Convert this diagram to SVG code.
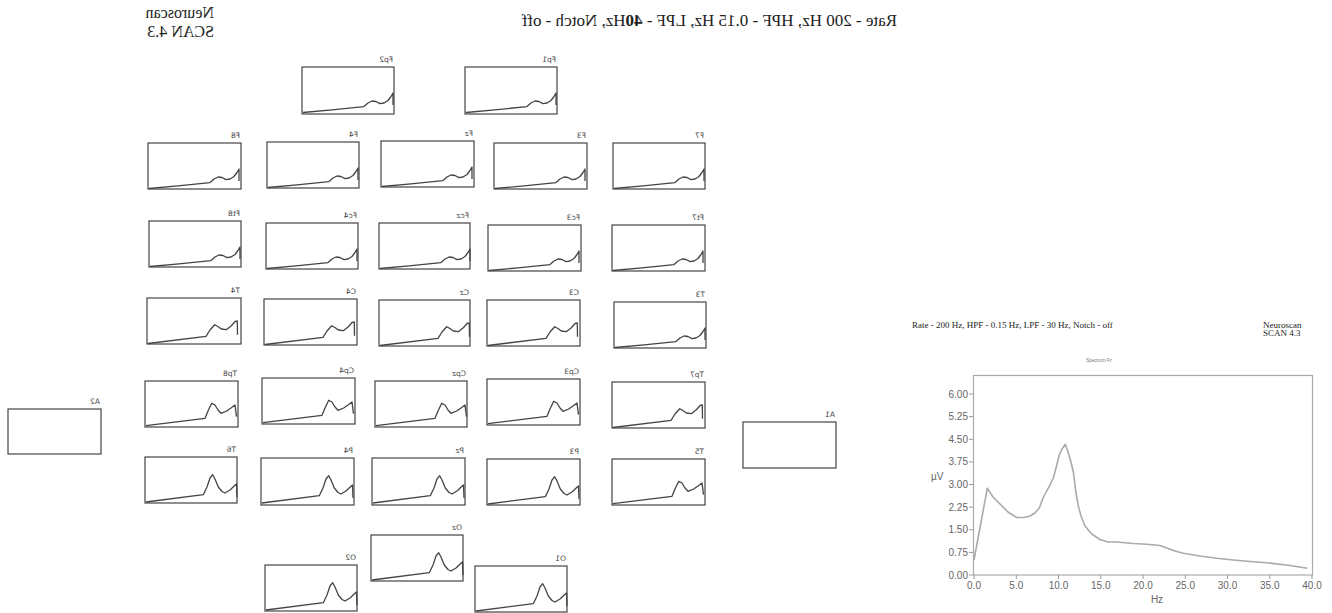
<svg xmlns="http://www.w3.org/2000/svg" width="1332" height="613" viewBox="0 0 1332 613">
<style>
.box{fill:#fff;stroke:#444;stroke-width:1.2}
.crv{fill:none;stroke:#444;stroke-width:1.3;stroke-linejoin:round}
.lbl{font-family:"DejaVu Sans",sans-serif;font-size:7.5px;fill:#444}
.mt{font-family:"Liberation Serif",serif;fill:#222}
.ax{font-family:"Liberation Sans",sans-serif;font-size:10px;fill:#666}
.tk{stroke:#999;stroke-width:1}
</style>
<defs>
<path id="cF" class="crv" d="M1,45.5 L30,42.8 L62,39.6 L66,36 L70,34 L74,34.5 L78,36.6 L82,36 L86,33.5 L89,29.5 L91,26 L91,38"/>
<path id="cC" class="crv" d="M1,45.5 L59,38.3 L63,32 L67.7,26.7 L71,28.5 L74.3,31 L79.3,31.7 L84.3,27.7 L88.3,23.3 L90.3,23 L90.5,36.7"/>
<path id="cP2" class="crv" d="M1,44.7 L60,37.3 L63,30 L66.7,22.3 L70,24 L73,29 L76,32.3 L81.7,30 L86,27 L90,24 L91.5,35.7"/>
<path id="cP" class="crv" d="M1,45 L58.3,37.7 L62,30 L65,21 L67.7,17.7 L70,22 L73.3,30 L77,34.5 L80,36 L85,33 L90,28.3 L91.5,27 L92,40"/>
</defs>

<g id="header">
<text class="mt" font-size="16" transform="translate(214,18) scale(-1,1)">Neuroscan</text>
<text class="mt" font-size="16" transform="translate(214,37) scale(-1,1)">SCAN 4.3</text>
<text class="mt" font-size="17" transform="translate(897,26) scale(-1,1)">Rate - 200 Hz, HPF - 0.15 Hz, LPF - <tspan font-weight="bold">40</tspan>Hz, Notch - off</text>
</g>

<g id="Fp2"><rect class="box" x="302" y="67" width="92" height="47"/><use href="#cF" x="302" y="67"/><text class="lbl" transform="translate(393,62) scale(-1,1)">Fp2</text></g>
<g id="Fp1"><rect class="box" x="465" y="67" width="92" height="47"/><use href="#cF" x="465" y="67"/><text class="lbl" transform="translate(556,62) scale(-1,1)">Fp1</text></g>

<g id="F8"><rect class="box" x="148" y="143" width="93" height="46"/><use href="#cF" x="148" y="143"/><text class="lbl" transform="translate(240,138) scale(-1,1)">F8</text></g>
<g id="F4"><rect class="box" x="267" y="142" width="92" height="46"/><use href="#cF" x="267" y="142"/><text class="lbl" transform="translate(358,137) scale(-1,1)">F4</text></g>
<g id="Fz"><rect class="box" x="381" y="141" width="93" height="46"/><use href="#cF" x="381" y="141"/><text class="lbl" transform="translate(473,136) scale(-1,1)">Fz</text></g>
<g id="F3"><rect class="box" x="494" y="143" width="93" height="46"/><use href="#cF" x="494" y="143"/><text class="lbl" transform="translate(586,138) scale(-1,1)">F3</text></g>
<g id="F7"><rect class="box" x="613" y="143" width="92" height="46"/><use href="#cF" x="613" y="143"/><text class="lbl" transform="translate(704,138) scale(-1,1)">F7</text></g>

<g id="Ft8"><rect class="box" x="149" y="221" width="92" height="46"/><use href="#cF" x="149" y="221"/><text class="lbl" transform="translate(240,216) scale(-1,1)">Ft8</text></g>
<g id="Fc4"><rect class="box" x="266" y="223" width="92" height="46"/><use href="#cF" x="266" y="223"/><text class="lbl" transform="translate(357,218) scale(-1,1)">Fc4</text></g>
<g id="Fcz"><rect class="box" x="379" y="223" width="91" height="46"/><use href="#cF" x="379" y="223"/><text class="lbl" transform="translate(469,218) scale(-1,1)">Fcz</text></g>
<g id="Fc3"><rect class="box" x="488" y="225" width="93" height="46"/><use href="#cF" x="488" y="225"/><text class="lbl" transform="translate(580,220) scale(-1,1)">Fc3</text></g>
<g id="Ft7"><rect class="box" x="612" y="225" width="93" height="46"/><use href="#cF" x="612" y="225"/><text class="lbl" transform="translate(704,220) scale(-1,1)">Ft7</text></g>

<g id="T4"><rect class="box" x="147" y="298" width="94" height="46"/><use href="#cC" x="147" y="298"/><text class="lbl" transform="translate(240,293) scale(-1,1)">T4</text></g>
<g id="C4"><rect class="box" x="264" y="299" width="93" height="46"/><use href="#cC" x="264" y="299"/><text class="lbl" transform="translate(356,294) scale(-1,1)">C4</text></g>
<g id="Cz"><rect class="box" x="379" y="300" width="91" height="46"/><use href="#cC" x="379" y="300"/><text class="lbl" transform="translate(469,295) scale(-1,1)">Cz</text></g>
<g id="C3"><rect class="box" x="487" y="300" width="93" height="46"/><use href="#cC" x="487" y="300"/><text class="lbl" transform="translate(579,295) scale(-1,1)">C3</text></g>
<g id="T3"><rect class="box" x="614" y="302" width="92" height="46"/><use href="#cF" x="614" y="302"/><text class="lbl" transform="translate(705,297) scale(-1,1)">T3</text></g>

<g id="Tp8"><rect class="box" x="145" y="381" width="93" height="46"/><use href="#cP2" x="145" y="381"/><text class="lbl" transform="translate(237,376) scale(-1,1)">Tp8</text></g>
<g id="Cp4"><rect class="box" x="262" y="378" width="93" height="46"/><use href="#cP2" x="262" y="378"/><text class="lbl" transform="translate(354,373) scale(-1,1)">Cp4</text></g>
<g id="Cpz"><rect class="box" x="375" y="381" width="92" height="46"/><use href="#cP2" x="375" y="381"/><text class="lbl" transform="translate(466,376) scale(-1,1)">Cpz</text></g>
<g id="Cp3"><rect class="box" x="487" y="379" width="93" height="46"/><use href="#cP2" x="487" y="379"/><text class="lbl" transform="translate(579,374) scale(-1,1)">Cp3</text></g>
<g id="Tp7"><rect class="box" x="612" y="382" width="93" height="46"/><use href="#cC" x="612" y="382"/><text class="lbl" transform="translate(704,377) scale(-1,1)">Tp7</text></g>

<g id="T6"><rect class="box" x="145" y="457" width="92" height="46"/><use href="#cP" x="145" y="457"/><text class="lbl" transform="translate(236,452) scale(-1,1)">T6</text></g>
<g id="P4"><rect class="box" x="261" y="458" width="93" height="47"/><use href="#cP" x="261" y="458"/><text class="lbl" transform="translate(353,453) scale(-1,1)">P4</text></g>
<g id="Pz"><rect class="box" x="372" y="458" width="93" height="47"/><use href="#cP" x="372" y="458"/><text class="lbl" transform="translate(464,453) scale(-1,1)">Pz</text></g>
<g id="P3"><rect class="box" x="487" y="459" width="93" height="46"/><use href="#cP" x="487" y="459"/><text class="lbl" transform="translate(579,454) scale(-1,1)">P3</text></g>
<g id="T5"><rect class="box" x="612" y="459" width="93" height="46"/><use href="#cP2" x="612" y="459"/><text class="lbl" transform="translate(704,454) scale(-1,1)">T5</text></g>

<g id="O2"><rect class="box" x="265" y="565" width="92" height="46"/><use href="#cP" x="265" y="565"/><text class="lbl" transform="translate(356,560) scale(-1,1)">O2</text></g>
<g id="Oz"><rect class="box" x="371" y="535" width="92" height="46"/><use href="#cP" x="371" y="535"/><text class="lbl" transform="translate(462,530) scale(-1,1)">Oz</text></g>
<g id="O1"><rect class="box" x="475" y="566" width="92" height="46"/><use href="#cP" x="475" y="566"/><text class="lbl" transform="translate(566,561) scale(-1,1)">O1</text></g>

<g id="A2"><rect class="box" x="8" y="409" width="93" height="45"/><text class="lbl" transform="translate(100,404) scale(-1,1)">A2</text></g>
<g id="A1"><rect class="box" x="743" y="422" width="93" height="46"/><text class="lbl" transform="translate(835,417) scale(-1,1)">A1</text></g>

<g id="connectors"></g>

<g id="chart">
<text class="mt" font-size="9" x="912" y="328">Rate - 200 Hz, HPF - 0.15 Hz, LPF - 30 Hz, Notch - off</text>
<text class="mt" font-size="9" x="1263" y="328">Neuroscan</text>
<text class="mt" font-size="9" x="1263" y="336">SCAN 4.3</text>
<text font-family="Liberation Sans,sans-serif" font-size="4.5" fill="#777" x="1099" y="362" text-anchor="middle">Spectrum Fz</text>
<rect x="973.5" y="375.5" width="339" height="199.5" fill="#fff" stroke="#aaa" stroke-width="1.2"/>
<g class="tk">
<line x1="969" y1="394" x2="973" y2="394"/><line x1="969" y1="416.6" x2="973" y2="416.6"/><line x1="969" y1="439.3" x2="973" y2="439.3"/><line x1="969" y1="461.9" x2="973" y2="461.9"/><line x1="969" y1="484.5" x2="973" y2="484.5"/><line x1="969" y1="507.1" x2="973" y2="507.1"/><line x1="969" y1="529.8" x2="973" y2="529.8"/><line x1="969" y1="552.4" x2="973" y2="552.4"/><line x1="969" y1="575" x2="973" y2="575"/>
<line x1="974" y1="575" x2="974" y2="579"/><line x1="1016.3" y1="575" x2="1016.3" y2="579"/><line x1="1058.5" y1="575" x2="1058.5" y2="579"/><line x1="1100.8" y1="575" x2="1100.8" y2="579"/><line x1="1143" y1="575" x2="1143" y2="579"/><line x1="1185.3" y1="575" x2="1185.3" y2="579"/><line x1="1227.5" y1="575" x2="1227.5" y2="579"/><line x1="1269.8" y1="575" x2="1269.8" y2="579"/><line x1="1312" y1="575" x2="1312" y2="579"/>
</g>
<g class="ax" text-anchor="end">
<text x="968" y="397.5">6.00</text><text x="968" y="420">5.25</text><text x="968" y="442.8">4.50</text><text x="968" y="465.4">3.75</text><text x="968" y="488">3.00</text><text x="968" y="510.6">2.25</text><text x="968" y="533.3">1.50</text><text x="968" y="555.9">0.75</text><text x="968" y="578.5">0.00</text>
</g>
<g class="ax" text-anchor="middle">
<text x="974" y="589">0.0</text><text x="1016.3" y="589">5.0</text><text x="1058.5" y="589">10.0</text><text x="1100.8" y="589">15.0</text><text x="1143" y="589">20.0</text><text x="1185.3" y="589">25.0</text><text x="1227.5" y="589">30.0</text><text x="1269.8" y="589">35.0</text><text x="1312" y="589">40.0</text>
<text x="1157" y="603">Hz</text>
</g>
<text class="ax" x="931" y="480">µV</text>
<path fill="none" stroke="#aaa" stroke-width="1.6" stroke-linejoin="round" d="M974,560 L987.3,488.3 L993,497 L1000,504 L1008,512 L1016.7,517.5 L1024,517.5 L1030,516 L1035,513 L1039.3,508 L1043,498 L1046.7,491 L1050,485 L1053.3,478 L1056,468 L1059.3,455 L1062,449 L1065.3,444.3 L1068,452 L1071,462 L1073.5,473 L1076,493 L1078.3,506 L1081,516 L1085,526 L1091.7,534 L1100,539.5 L1108,542 L1116.7,542 L1133.3,543.5 L1146.7,544.3 L1160,545.5 L1166.7,548 L1175,551 L1183.3,553.3 L1200,556 L1216.7,558.3 L1233.3,560 L1250,561.5 L1266.7,562.7 L1290,565.5 L1307.3,568.3"/>
</g>
</svg>
